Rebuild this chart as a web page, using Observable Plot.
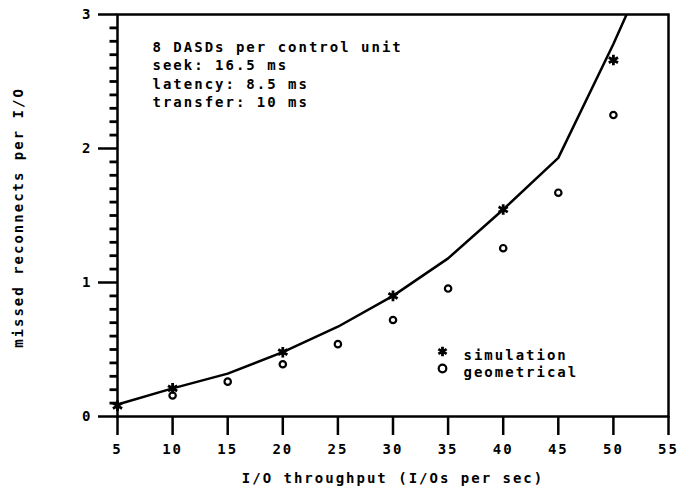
<!DOCTYPE html>
<html>
<head>
<meta charset="utf-8">
<script src="https://cdn.jsdelivr.net/npm/d3@7"></script>
<script src="https://cdn.jsdelivr.net/npm/@observablehq/plot@0.6"></script>
<style>
  html, body { margin: 0; padding: 0; background: #fff; }
  svg text { font-weight: bold; font-family: 'DejaVu Sans Mono', monospace; }
</style>
</head>
<body>
<div id="chart"></div>
<script>
// ---- data ----
const xTicks = [5, 10, 15, 20, 25, 30, 35, 40, 45, 50, 55];
const yTicks = [0, 1, 2, 3];
const yMinorTicks = [0.1, 0.2, 0.3, 0.4, 0.5, 0.6, 0.7, 0.8, 0.9,
                     1.1, 1.2, 1.3, 1.4, 1.5, 1.6, 1.7, 1.8, 1.9,
                     2.1, 2.2, 2.3, 2.4, 2.5, 2.6, 2.7, 2.8, 2.9];

const lineX = [5, 10, 15, 20, 25, 30, 35, 40, 45, 50, 55];
const lineY = [0.09, 0.21, 0.32, 0.48, 0.67, 0.90, 1.18, 1.545, 1.93, 2.78, 3.7];

const simX = [5, 10, 20, 30, 40, 50];
const simY = [0.08, 0.21, 0.48, 0.90, 1.545, 2.66];

const geoX = [10, 15, 20, 25, 30, 35, 40, 45, 50];
const geoY = [0.157, 0.26, 0.39, 0.54, 0.72, 0.955, 1.256, 1.67, 2.25];

const annotation = ["8 DASDs per control unit", "seek: 16.5 ms", "latency: 8.5 ms", "transfer: 10 ms"];
const legendLabels = ["simulation", "geometrical"];
const xLabel = "I/O throughput (I/Os per sec)";
const yLabel = "missed reconnects per I/O";

// ---- tables ----
const lineData = lineX.map((x, i) => ({x, y: lineY[i]}));
const simData = simX.map((x, i) => ({x, y: simY[i]}));
const geoData = geoX.map((x, i) => ({x, y: geoY[i]}));
const minorData = yMinorTicks.map(y => ({y}));

const font = "'DejaVu Sans Mono', monospace";

// short horizontal stub extending left from the anchor point (used for minor ticks)
const minorTickSymbol = {
  draw(context) {
    context.moveTo(-8, 0);
    context.lineTo(0, 0);
  }
};

const chart = Plot.plot({
  width: 688,
  height: 493,
  marginLeft: 117,
  marginRight: 20,
  marginTop: 14,
  marginBottom: 77,
  style: {
    fontFamily: font,
    fontWeight: "bold",
    fontSize: "14px",
    letterSpacing: "2px",
    color: "#000",
    background: "#fff"
  },
  x: {domain: [5, 55]},
  y: {domain: [0, 3]},
  marks: [
    Plot.axisY(yTicks, {anchor: "left", tickSize: 19, tickPadding: 6, tickFormat: d => String(d), stroke: "#000", strokeWidth: 2.5, strokeOpacity: 1, label: null, fontWeight: "bold"}),
    Plot.axisX(xTicks, {anchor: "bottom", tickSize: 19, tickPadding: 9, tickFormat: d => String(d), stroke: "#000", strokeWidth: 2.5, strokeOpacity: 1, label: null, fontWeight: "bold"}),
    Plot.frame({stroke: "#000", strokeWidth: 2.5}),
    Plot.line(lineData, {x: "x", y: "y", stroke: "#000", strokeWidth: 2.5, clip: true}),
    Plot.dot(simData, {x: "x", y: "y", symbol: "asterisk", r: 5, stroke: "#000", strokeWidth: 2.8}),
    Plot.dot(geoData, {x: "x", y: "y", symbol: "circle", r: 3.2, stroke: "#000", fill: "none", strokeWidth: 2.2}),
    // annotation block
    Plot.text([annotation.join("\n")], {
      frameAnchor: "top-left", dx: 35, dy: 24, textAnchor: "start",
      lineHeight: 1.32, fill: "#000", fontWeight: "bold"
    }),
    // legend
    Plot.dot([legendLabels[0]], {frameAnchor: "top-left", dx: 325, dy: 337, symbol: "asterisk", r: 4.5, stroke: "#000", strokeWidth: 2.8}),
    Plot.dot([legendLabels[1]], {frameAnchor: "top-left", dx: 325, dy: 354, symbol: "circle", r: 3.8, stroke: "#000", fill: "none", strokeWidth: 2.2}),
    Plot.text([legendLabels[0]], {frameAnchor: "top-left", dx: 346, dy: 336, textAnchor: "start", text: d => d, fill: "#000", fontWeight: "bold"}),
    Plot.text([legendLabels[1]], {frameAnchor: "top-left", dx: 346, dy: 353, textAnchor: "start", text: d => d, fill: "#000", fontWeight: "bold"}),
    // axis titles
    Plot.text([xLabel], {frameAnchor: "bottom", dy: 66, text: d => d, fill: "#000", fontWeight: "bold"}),
    Plot.text([yLabel], {frameAnchor: "left", textAnchor: "middle", dx: -99, dy: 2, rotate: -90, text: d => d, fill: "#000", fontWeight: "bold", letterSpacing: "1.4px"}),
    // minor y ticks every 0.1: short stubs anchored on the left frame edge
    Plot.dot(minorData, {y: "y", frameAnchor: "left", symbol: minorTickSymbol, r: 4, fill: "none", stroke: "#000", strokeWidth: 2.8, strokeOpacity: 1})
  ]
});

document.getElementById("chart").appendChild(chart);
</script>
</body>
</html>
